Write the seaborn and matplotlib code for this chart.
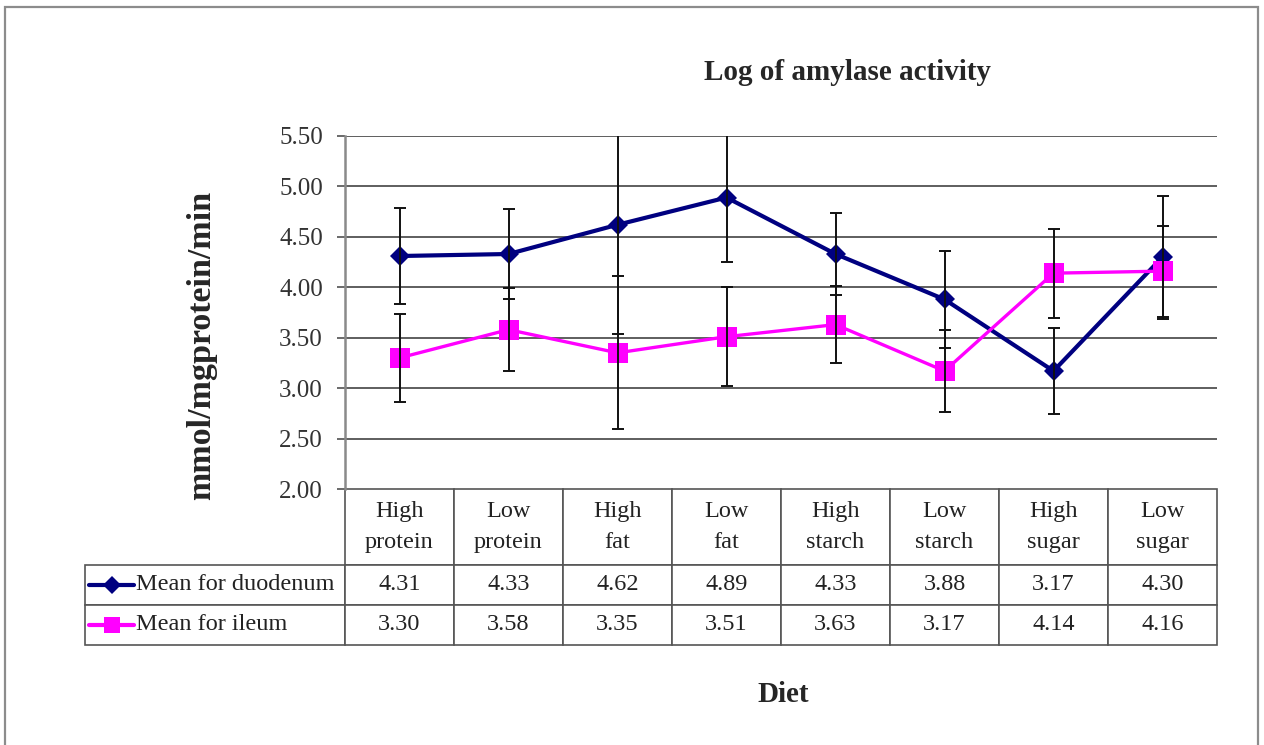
import numpy as np
import pandas as pd
import seaborn as sns
import matplotlib.pyplot as plt
from matplotlib.lines import Line2D
from matplotlib.patches import Rectangle

# data
diets = ["High\nprotein", "Low\nprotein", "High\nfat", "Low\nfat",
         "High\nstarch", "Low\nstarch", "High\nsugar", "Low\nsugar"]
duodenum = [4.31, 4.33, 4.62, 4.89, 4.33, 3.88, 3.17, 4.30]
ileum = [3.30, 3.58, 3.35, 3.51, 3.63, 3.17, 4.14, 4.16]
duodenum_err = [0.48, 0.45, 1.08, 0.64, 0.41, 0.48, 0.43, 0.61]
ileum_err = [0.44, 0.41, 0.76, 0.49, 0.38, 0.41, 0.44, 0.45]
series_names = ["Mean for duodenum", "Mean for ileum"]
yticks = [2.0, 2.5, 3.0, 3.5, 4.0, 4.5, 5.0, 5.5]

sns.set_style("white")
plt.rcParams["font.family"] = ["Liberation Serif", "DejaVu Serif"]

navy = "#000080"
magenta = "#FF00FF"
W, H = 1264, 745

df = pd.DataFrame({
    "pos": list(range(len(diets))) * 2,
    "value": duodenum + ileum,
    "series": [series_names[0]] * len(diets) + [series_names[1]] * len(diets),
})

fig = plt.figure(figsize=(W / 100, H / 100), dpi=100)
ax = fig.add_axes([345 / W, 1 - 489 / H, 872 / W, 353 / H])

# outer frame
fig.add_artist(Rectangle((5 / W, -0.05), 1253 / W, 1.05 - 7 / H, transform=fig.transFigure,
                         fill=False, edgecolor="#8c8c8c", lw=1.6))

sns.lineplot(data=df, x="pos", y="value", hue="series", style="series",
             palette={series_names[0]: navy, series_names[1]: magenta},
             markers={series_names[0]: "D", series_names[1]: "s"},
             dashes=False, ax=ax, legend=False, zorder=3)
for line, lw, ms in zip(ax.lines[:2], [3.0, 2.4], [10, 14]):
    line.set_linewidth(lw)
    line.set_markersize(ms)
    line.set_markeredgewidth(0)

x = np.arange(len(diets))
ax.errorbar(x, duodenum, yerr=duodenum_err, fmt="none", ecolor="#111111",
            elinewidth=1.4, capsize=4, capthick=1.4, zorder=4)
ax.errorbar(x, ileum, yerr=ileum_err, fmt="none", ecolor="#111111",
            elinewidth=1.4, capsize=4, capthick=1.4, zorder=4)

ax.set_xlim(-0.5, len(diets) - 0.5)
ax.set_ylim(2.0, 5.5)
ax.set_yticks(yticks)
ax.set_yticklabels([f"{v:.2f}" for v in yticks], fontsize=18, color="#333333")
ax.set_xticks([])
ax.set_xlabel("")
ax.set_ylabel("")
for v in yticks[1:]:
    ax.axhline(v, color="#5e5e5e", lw=1.4, zorder=1)
ax.tick_params(axis="y", left=True, length=6, width=1.3, color="#5e5e5e", pad=10)
for side in ["top", "right", "bottom"]:
    ax.spines[side].set_visible(False)
ax.spines["left"].set_color("#8a8a8a")
ax.spines["left"].set_linewidth(1.8)

# data table below the plot
cell_text = [[series_names[0]] + [f"{v:.2f}" for v in duodenum],
             [series_names[1]] + [f"{v:.2f}" for v in ileum]]
tab = ax.table(cellText=cell_text, colLabels=[""] + diets, cellLoc="center",
               colWidths=[260] + [109] * len(diets),
               bbox=[-260 / 872, -156 / 353, 1132 / 872, 156 / 353])
tab.auto_set_font_size(False)
tab.set_fontsize(17.5)
for (r, c), cell in tab.get_celld().items():
    cell.set_edgecolor("#555555")
    cell.set_linewidth(1.2)
    cell.set_height(76 if r == 0 else 40)
    cell.get_text().set_color("#222222")
    if r == 0:
        cell.get_text().set_linespacing(1.6)
    if c == 0:
        if r == 0:
            cell.visible_edges = ""
        else:
            cell._loc = "left"
            cell.PAD = 51 / 260
            cell.get_text().set_ha("left")

# legend keys inside the row labels
for yc, col, mk, ms in [(585, navy, "D", 9), (625, magenta, "s", 12)]:
    fy = 1 - yc / H
    fig.add_artist(Line2D([89 / W, 134 / W], [fy, fy], color=col, lw=3.0,
                          transform=fig.transFigure))
    fig.add_artist(Line2D([112 / W], [fy], color=col, marker=mk, markersize=ms,
                          markeredgewidth=0, transform=fig.transFigure))

fig.text(847 / W, 1 - 72 / H, "Log of amylase activity", ha="center", va="center",
         fontsize=21, fontweight="bold")
fig.text(783 / W, 1 - 695 / H, "Diet", ha="center", va="center",
         fontsize=21, fontweight="bold")
fig.text(202 / W, 1 - 345 / H, "mmol/mgprotein/min", ha="center", va="center",
         rotation=90, fontsize=24.5, fontweight="bold")

fig.savefig("out.png", dpi=100)
